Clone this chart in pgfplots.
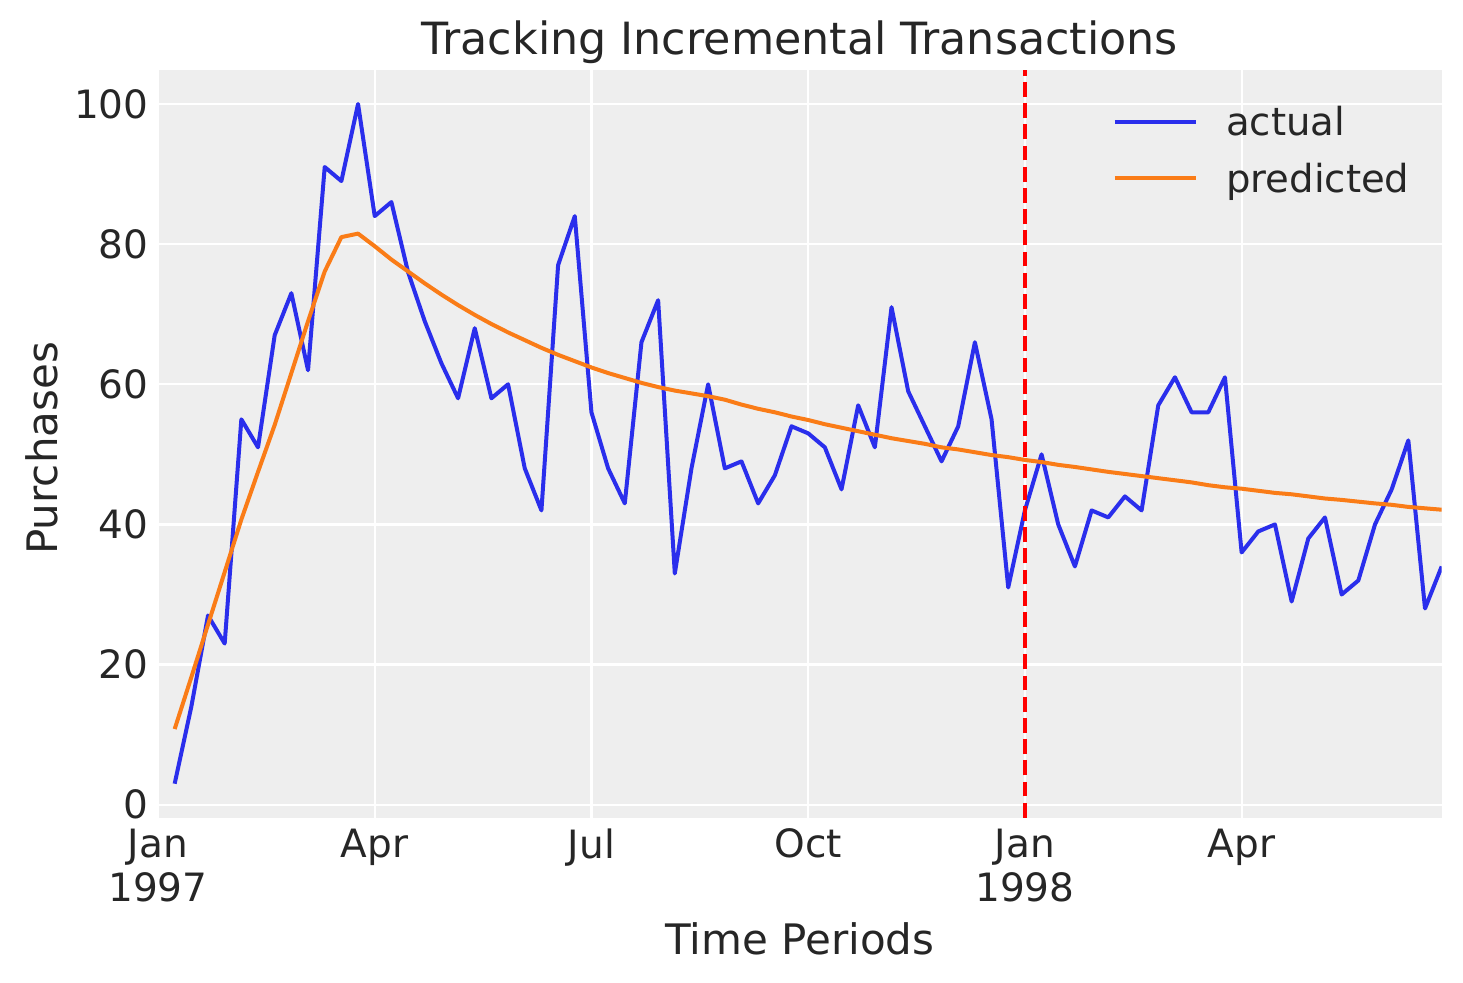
\documentclass[border=0pt]{standalone}
\usepackage{fontspec}
\setmainfont{DejaVu Sans}
\usepackage{pgfplots}
\pgfplotsset{compat=1.18}
\definecolor{cblue}{HTML}{2A2EEC}
\definecolor{corange}{HTML}{FA7C17}
\definecolor{bgc}{HTML}{EEEEEE}
\definecolor{txt}{HTML}{262626}
\begin{document}
\begin{tikzpicture}
\begin{axis}[
  scale only axis,
  width=641.85pt, height=373.85pt,
  xmin=0, xmax=77, ymin=-1.85, ymax=104.85,
  axis background/.style={fill=bgc},
  axis line style={draw=none},
  major tick length=0pt,
  tick style={draw=none},
  grid=major,
  grid style={white, line width=1.1pt},
  xtick={0,13,26,39,52,65},
  xticklabels={{Jan\\1997},Apr,Jul,Oct,{Jan\\1998},Apr},
  ytick={0,20,40,60,80,100},
  /pgf/number format/assume math mode=true,
  xticklabel style={align=center, inner sep=0pt, anchor=north, yshift=-5.3pt, font=\fontsize{19.5}{22.2}\selectfont, text=txt},
  yticklabel style={inner sep=0pt, anchor=east, xshift=-4.5pt, font=\fontsize{19.5}{23}\selectfont, text=txt},
  xlabel={Time Periods},
  ylabel={Purchases},
  xlabel style={at={(axis description cs:0.5,0)}, anchor=base, yshift=-68.65pt, inner sep=0pt, font=\fontsize{21}{25}\selectfont, text=txt},
  ylabel style={at={(axis description cs:-0.07845,0.494)}, anchor=base, inner sep=0pt, font=\fontsize{21}{25}\selectfont, text=txt},
  title={Tracking Incremental Transactions},
  title style={at={(axis description cs:0.5,1)}, anchor=base, yshift=1.5pt, inner sep=0pt, font=\fontsize{22.2}{27}\selectfont, text=txt},
  legend style={draw=none, fill=none, at={(0.7439,0.95)}, anchor=north west, inner sep=0pt, outer sep=0pt, row sep=14.05pt, column sep=14.2pt, font=\fontsize{19.3}{23}\selectfont, text=txt, nodes={inner sep=0pt, text height=14.3pt, text depth=0pt}},
  legend image code/.code={\draw[#1, line cap=butt] (0pt,0pt) -- (40.5pt,0pt);},
  legend cell align=left,
]
\addplot[cblue, line width=2pt, line join=round] table[x=w, y=v] {
w v
1 3
2 14
3 27
4 23
5 55
6 51
7 67
8 73
9 62
10 91
11 89
12 100
13 84
14 86
15 76
16 69
17 63
18 58
19 68
20 58
21 60
22 48
23 42
24 77
25 84
26 56
27 48
28 43
29 66
30 72
31 33
32 48
33 60
34 48
35 49
36 43
37 47
38 54
39 53
40 51
41 45
42 57
43 51
44 71
45 59
46 54
47 49
48 54
49 66
50 55
51 31
52 42
53 50
54 40
55 34
56 42
57 41
58 44
59 42
60 57
61 61
62 56
63 56
64 61
65 36
66 39
67 40
68 29
69 38
70 41
71 30
72 32
73 40
74 45
75 52
76 28
77 34
};
\addplot[corange, line width=2pt, line join=round] table[x=w, y=v] {
w v
1 10.8
2 18.2
3 25.7
4 33.2
5 40.7
6 47.5
7 54.2
8 61.6
9 69.0
10 76.1
11 81.0
12 81.5
13 79.7
14 77.8
15 76.1
16 74.4
17 72.8
18 71.3
19 69.9
20 68.6
21 67.4
22 66.3
23 65.2
24 64.2
25 63.3
26 62.4
27 61.6
28 60.9
29 60.2
30 59.6
31 59.1
32 58.7
33 58.3
34 57.8
35 57.1
36 56.5
37 56.0
38 55.4
39 54.9
40 54.3
41 53.8
42 53.3
43 52.8
44 52.3
45 51.9
46 51.5
47 51.0
48 50.7
49 50.3
50 49.9
51 49.6
52 49.2
53 48.9
54 48.5
55 48.2
56 47.85
57 47.5
58 47.2
59 46.9
60 46.6
61 46.3
62 46.0
63 45.6
64 45.3
65 45.1
66 44.8
67 44.5
68 44.3
69 44.0
70 43.7
71 43.5
72 43.25
73 43.0
74 42.8
75 42.5
76 42.3
77 42.1
};
\addplot[red, line width=2pt, dash pattern=on 7.4pt off 3.2pt, forget plot] coordinates {(52,-1.85) (52,104.85)};
\legend{actual,predicted}
\end{axis}
\pgfresetboundingbox
\path[use as bounding box] (-79pt,-82.65pt) rectangle (652.5pt,408.85pt);
\end{tikzpicture}
\end{document}
